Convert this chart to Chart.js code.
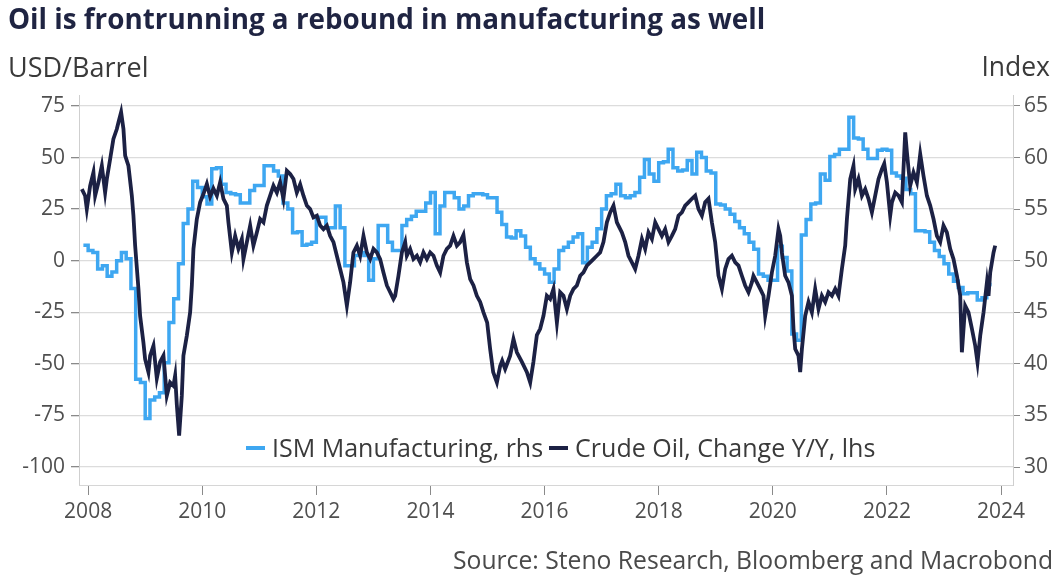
<!DOCTYPE html>
<html>
<head>
<meta charset="utf-8">
<script src="https://cdn.jsdelivr.net/npm/chart.js@4.4.1/dist/chart.umd.min.js"></script>
<style>
  body { margin: 0; background: #fff; }
  #wrap { position: relative; width: 1063px; height: 579px; font-family: "Open Sans", sans-serif; }
  #chart { position: absolute; left: 0; top: 0; }
  .txt { position: absolute; line-height: 1; white-space: nowrap; }
  .title { left: 8px; top: 5px; font-weight: 700; font-size: 27.8px; color: #1f2442; }
  .unit { top: 53px; color: #3a3a3a; }
  .unit.left { left: 8px; font-size: 27px; }
  .unit.right { right: 13px; font-size: 26.5px; }
  .source { right: 10px; top: 548px; font-size: 24.7px; color: #4a4a4a; }
  #legend { left: 246px; top: 435px; display: flex; font-size: 25px; color: #3a3a3a; }
  #legend span.item { display: flex; align-items: center; margin-right: 6px; }
  #legend i { display: inline-block; width: 19px; height: 4px; margin-right: 7px; }
</style>
</head>
<body>
<div id="wrap">
  <canvas id="chart" width="1063" height="579"></canvas>
  <div class="txt title">Oil is frontrunning a rebound in manufacturing as well</div>
  <div class="txt unit left">USD/Barrel</div>
  <div class="txt unit right">Index</div>
  <div class="txt" id="legend"></div>
  <div class="txt source">Source: Steno Research, Bloomberg and Macrobond</div>
</div>
<script>
  // ISM Manufacturing, monthly, first month Dec 2007 (rhs)
  const ismStart = 2007.917;
  const ismValues = [
    51.5, 51.0, 50.8, 49.2, 49.5, 48.5, 48.9, 50.0, 50.8, 50.2, 47.3, 38.5,
    38.2, 34.7, 36.5, 36.8, 37.2, 40.1, 44.0, 46.3, 49.7, 53.6, 55.0, 57.7,
    57.1, 56.2, 55.5, 58.9, 59.0, 57.4, 56.6, 56.5, 56.4, 55.6, 55.6, 56.8,
    57.3, 57.3, 59.2, 59.2, 58.7, 58.2, 55.6, 55.0, 52.7, 52.8, 51.5, 51.6,
    51.8, 54.2, 54.2, 53.2, 53.2, 55.3, 53.2, 49.5, 49.5, 50.5, 50.8, 50.5,
    48.1, 50.2, 53.4, 53.4, 51.8, 51.0, 51.0, 53.4, 54.0, 54.3, 54.8, 54.8,
    55.6, 56.6, 52.6, 55.3, 56.6, 56.6, 56.1, 55.0, 55.3, 56.3, 56.5, 56.5,
    56.4, 56.1, 56.1, 54.7, 53.5, 52.3, 52.2, 52.9, 52.4, 51.3, 50.2, 49.7,
    49.2, 48.7, 47.9, 49.2, 51.0, 51.3, 51.8, 52.3, 52.6, 49.8, 51.3, 51.8,
    53.1, 55.0, 56.3, 56.5, 57.4, 56.3, 56.1, 56.3, 56.6, 58.1, 59.8, 58.4,
    57.7, 59.5, 59.6, 60.8, 59.0, 58.7, 58.8, 59.7, 58.4, 60.5, 60.0, 58.7,
    58.5, 55.5, 55.4, 55.0, 54.5, 53.8, 53.2, 52.6, 51.8, 51.1, 48.7, 48.5,
    48.1, 48.1, 51.4, 50.3, 49.0, 42.9, 42.3, 52.5, 54.0, 55.5, 55.6, 58.4,
    57.8, 60.1, 60.3, 60.8, 60.8, 63.9, 61.9, 61.8, 60.8, 59.9, 59.9, 60.7,
    60.8, 60.7, 58.5, 58.2, 58.0, 56.9, 56.5, 52.9, 52.9, 52.8, 51.8, 51.0,
    50.4, 49.7, 48.7, 48.0, 47.4, 46.8, 46.9, 46.9, 46.2, 46.4, 47.7
  ];

  // Crude oil, change Y/Y in USD/barrel (lhs), dates in decimal years
  const oilDates = [
    2007.890, 2007.947, 2007.977, 2008.035, 2008.093, 2008.123, 2008.181, 2008.240, 2008.298, 2008.328,
    2008.386, 2008.443, 2008.503, 2008.531, 2008.578, 2008.619, 2008.649, 2008.706, 2008.766, 2008.794,
    2008.824, 2008.882, 2008.911, 2008.969, 2008.999, 2009.057, 2009.087, 2009.145, 2009.204, 2009.262,
    2009.320, 2009.379, 2009.437, 2009.495, 2009.525, 2009.555, 2009.595, 2009.642, 2009.670, 2009.730,
    2009.788, 2009.818, 2009.846, 2009.905, 2009.963, 2010.021, 2010.081, 2010.138, 2010.196, 2010.256,
    2010.314, 2010.372, 2010.431, 2010.459, 2010.519, 2010.577, 2010.634, 2010.694, 2010.722, 2010.782,
    2010.840, 2010.897, 2010.957, 2011.015, 2011.073, 2011.132, 2011.190, 2011.248, 2011.308, 2011.365,
    2011.423, 2011.483, 2011.541, 2011.599, 2011.658, 2011.716, 2011.774, 2011.833, 2011.891, 2011.949,
    2012.009, 2012.067, 2012.124, 2012.184, 2012.242, 2012.300, 2012.359, 2012.417, 2012.475, 2012.535,
    2012.592, 2012.650, 2012.710, 2012.768, 2012.826, 2012.885, 2012.943, 2013.001, 2013.060, 2013.118,
    2013.176, 2013.236, 2013.294, 2013.351, 2013.381, 2013.439, 2013.499, 2013.557, 2013.586, 2013.644,
    2013.702, 2013.762, 2013.819, 2013.877, 2013.937, 2013.995, 2014.053, 2014.112, 2014.170, 2014.228,
    2014.287, 2014.345, 2014.403, 2014.463, 2014.521, 2014.578, 2014.638, 2014.696, 2014.754, 2014.813,
    2014.871, 2014.929, 2014.994, 2015.046, 2015.099, 2015.164, 2015.222, 2015.257, 2015.309, 2015.397,
    2015.455, 2015.514, 2015.602, 2015.690, 2015.748, 2015.805, 2015.865, 2015.923, 2015.981, 2016.040,
    2016.098, 2016.156, 2016.216, 2016.273, 2016.331, 2016.391, 2016.449, 2016.507, 2016.566, 2016.624,
    2016.682, 2016.741, 2016.799, 2016.857, 2016.916, 2016.974, 2017.032, 2017.092, 2017.150, 2017.208,
    2017.267, 2017.295, 2017.355, 2017.413, 2017.471, 2017.530, 2017.588, 2017.646, 2017.706, 2017.763,
    2017.821, 2017.881, 2017.939, 2017.997, 2018.056, 2018.114, 2018.172, 2018.231, 2018.289, 2018.347,
    2018.407, 2018.464, 2018.522, 2018.582, 2018.640, 2018.698, 2018.757, 2018.815, 2018.873, 2018.932,
    2018.990, 2019.048, 2019.108, 2019.166, 2019.223, 2019.283, 2019.341, 2019.399, 2019.458, 2019.516,
    2019.574, 2019.633, 2019.661, 2019.721, 2019.779, 2019.837, 2019.867, 2019.925, 2019.984, 2020.042,
    2020.100, 2020.130, 2020.159, 2020.217, 2020.275, 2020.335, 2020.363, 2020.393, 2020.450, 2020.480,
    2020.510, 2020.568, 2020.626, 2020.685, 2020.743, 2020.801, 2020.860, 2020.918, 2020.976, 2021.036,
    2021.094, 2021.151, 2021.211, 2021.269, 2021.299, 2021.357, 2021.414, 2021.444, 2021.502, 2021.562,
    2021.620, 2021.677, 2021.737, 2021.795, 2021.853, 2021.912, 2021.953, 2022.000, 2022.058, 2022.088,
    2022.146, 2022.204, 2022.263, 2022.321, 2022.351, 2022.408, 2022.466, 2022.526, 2022.584, 2022.641,
    2022.701, 2022.759, 2022.817, 2022.876, 2022.934, 2022.992, 2023.051, 2023.109, 2023.167, 2023.227,
    2023.285, 2023.314, 2023.372, 2023.430, 2023.490, 2023.548, 2023.588, 2023.636, 2023.694, 2023.753,
    2023.781, 2023.811, 2023.869, 2023.898
  ];
  const oilValues = [
    34.7, 31.5, 25, 36.3, 42.8, 31.5, 38, 46, 33, 39.6,
    49.3, 59, 63.8, 67, 72, 63.8, 50.9, 46, 31.5, 21.8,
    7.3, -13.7, -26.7, -39.6, -47.7, -54, -46, -41.2, -57, -49,
    -46, -65.4, -59, -60.6, -55.7, -70, -84.8, -65.4, -46, -36.3,
    -25, -12, 5.7, 20.2, 28.3, 32.3, 37.2, 31, 35, 31.5,
    38, 30, 26.7, 18.6, 4, 12, 5.7, 10.5, 0.8, 9,
    17, 7.3, 13.7, 20.2, 18.6, 26.7, 31.5, 36.3, 33, 38,
    30, 43.6, 42, 39.6, 33, 37, 31.5, 26.7, 25, 21,
    21.8, 17, 15.3, 17, 12, 9, 2.4, -4, -10.5, -21.8,
    -10.5, 4, 7.3, 2.4, 12, 4, 0.8, 5.7, 4, 0.8,
    -5.7, -12, -15.3, -18.6, -17, -7.3, 4, 9, 2.4, 5.7,
    0.8, 2.4, -0.8, 4, 0.8, 4, 2.4, -2.4, -5.7, 2.4,
    5.7, 7.3, 12, 7.3, 9, 12.5, -0.8, -8.9, -12, -17,
    -20, -25, -30, -42.8, -54, -59, -51, -48.5, -52.5, -46,
    -38, -44.4, -49, -54, -59, -49, -36, -33, -26.7, -17,
    -18.6, -13.7, -30, -15.3, -17, -23.4, -17, -13.7, -12, -7.3,
    -5.7, -2.4, -0.8, 0.8, 2.4, 4, 9, 18.6, 23.4, 26.7,
    18.6, 17, 13.7, 9, 2.4, -0.8, -4, 2.4, 10.5, 5.7,
    13.7, 10.5, 18.6, 15.3, 12, 15.3, 9, 12, 15.3, 21.8,
    23.4, 26.7, 28.3, 30, 31.5, 25, 21.8, 28.3, 30, 18.6,
    9, -7.3, -13.7, -4, 0.8, 2.4, -0.8, -2.4, -7.3, -12,
    -15.3, -10.5, -7.3, -10.5, -13.7, -17, -26.7, -17, -5.7, 2.4,
    15.3, 12, 4, -7.3, -10.5, -17, -33, -42.8, -46, -54,
    -42.8, -26.7, -20, -25, -13.7, -23.4, -17, -20, -15.3, -17,
    -13.7, -17, -4, 7.3, 20.2, 39.6, 46, 34.7, 39.6, 31.5,
    34.7, 30, 23.4, 31.5, 39.6, 44.4, 47, 38, 21.8, 28.3,
    33, 31.5, 28.3, 62.2, 52.5, 36.3, 42.8, 38, 51.7, 41.2,
    31.5, 26.7, 20.2, 12, 9, 17, 13.7, 5.7, 0.8, -7.3,
    -17, -44.4, -21.8, -25, -33, -41.2, -49.3, -36.3, -25, -10.5,
    -17, -5.7, 4, 7.3
  ];

  const xTicks = [2008, 2010, 2012, 2014, 2016, 2018, 2020, 2022, 2024];
  const leftTicks = [-100, -75, -50, -25, 0, 25, 50, 75];
  const rightTicks = [30, 35, 40, 45, 50, 55, 60, 65];

  const ismPoints = ismValues.map(function(v, i) { return { x: ismStart + i / 12, y: v }; });
  // hold the last month as a step
  ismPoints.push({ x: ismStart + ismValues.length / 12, y: ismValues[ismValues.length - 1] });
  const oilPoints = oilDates.map(function(d, i) { return { x: d, y: oilValues[i] }; });

  const tickFont = { family: "Open Sans", size: 21 };
  const tickColor = "#4f4f4f";

  const chart = new Chart(document.getElementById("chart"), {
    type: "line",
    data: {
      datasets: [
        {
          label: "ISM Manufacturing, rhs",
          data: ismPoints,
          yAxisID: "y1",
          borderColor: "#3ea7f1",
          borderWidth: 3.5,
          stepped: true,
          pointRadius: 0,
          order: 1
        },
        {
          label: "Crude Oil, Change Y/Y, lhs",
          data: oilPoints,
          yAxisID: "y",
          borderColor: "#1c2144",
          borderWidth: 3.8,
          pointRadius: 0,
          order: 0
        }
      ]
    },
    options: {
      responsive: false,
      animation: false,
      layout: { padding: { top: 95, left: 0, right: 0, bottom: 0 } },
      plugins: {
        legend: { display: false },
        tooltip: { enabled: false }
      },
      scales: {
        x: {
          type: "linear",
          min: 2007.84,
          max: 2024.21,
          afterBuildTicks: function(scale) { scale.ticks = xTicks.map(function(v) { return { value: v }; }); },
          afterFit: function(scale) { scale.height = 94; },
          grid: { drawOnChartArea: false, drawTicks: true, tickLength: 10, tickColor: "#8a8a8a" },
          border: { color: "#d6d6d6" },
          ticks: {
            font: tickFont, color: tickColor, padding: 4, maxRotation: 0, autoSkip: false,
            callback: function(v) { return String(v); }
          }
        },
        y: {
          position: "left",
          min: -108.7,
          max: 80.3,
          afterBuildTicks: function(scale) { scale.ticks = leftTicks.map(function(v) { return { value: v }; }); },
          afterFit: function(scale) { scale.width = 79; },
          grid: { color: "#dcdcdc", lineWidth: 1.3, tickLength: 8, tickColor: "#8a8a8a" },
          border: { color: "#cfcfcf" },
          ticks: { font: tickFont, color: tickColor, padding: 6 }
        },
        y1: {
          position: "right",
          min: 28.26,
          max: 66.06,
          afterBuildTicks: function(scale) { scale.ticks = rightTicks.map(function(v) { return { value: v }; }); },
          afterFit: function(scale) { scale.width = 50; },
          grid: { drawOnChartArea: false, tickLength: 7, tickColor: "#8a8a8a" },
          border: { color: "#cfcfcf" },
          ticks: { font: tickFont, color: tickColor, padding: 4 }
        }
      }
    }
  });

  // legend inside the plot, built from the datasets
  const legend = document.getElementById("legend");
  chart.data.datasets.forEach(function(ds) {
    const item = document.createElement("span");
    item.className = "item";
    item.innerHTML = '<i style="background:' + ds.borderColor + '"></i>' + ds.label;
    legend.appendChild(item);
  });
</script>
</body>
</html>
